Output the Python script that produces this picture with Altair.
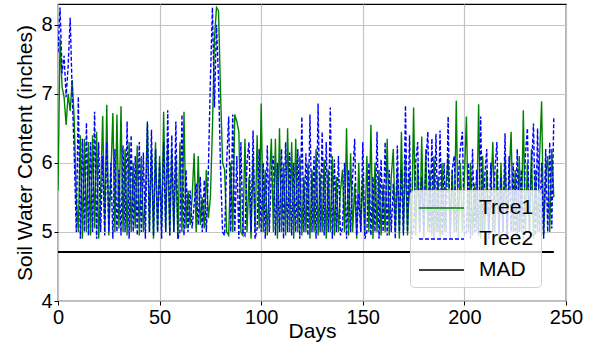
import altair as alt
import pandas as pd

# ---- data ----
tree1_values = [
    5.6, 7.8, 7.1, 6.95, 6.55, 7.0, 6.75, 7.2, 6.6, 5.5,
    5.0, 6.4, 4.9, 6.35, 5.0, 6.3, 4.95, 6.4, 5.05, 6.45,
    4.9, 5.6, 6.68, 5.0, 6.84, 4.95, 5.8, 6.72, 5.0, 6.7,
    5.05, 6.82, 5.0, 6.2, 4.95, 6.3, 5.0, 6.0, 5.05, 6.25,
    4.95, 6.1, 5.0, 5.5, 6.56, 5.0, 6.2, 4.9, 6.3, 5.0,
    6.1, 5.05, 6.74, 5.0, 6.3, 4.95, 6.2, 5.0, 6.1, 4.9,
    6.3, 5.0, 6.74, 5.05, 5.6, 5.1, 5.5, 6.14, 5.0, 6.1,
    5.1, 5.5, 5.05, 5.9, 5.2, 5.5, 6.5, 7.8, 8.25, 8.2,
    7.0, 6.0, 5.9, 5.0, 4.95, 6.0,
    5.0, 6.7, 6.6, 6.45, 5.0, 4.95, 6.35, 5.0, 5.8, 4.9,
    6.1, 5.0, 6.4, 5.05, 6.86, 5.0, 5.9, 4.95, 5.7, 6.35,
    5.0, 6.35, 4.9, 6.5, 5.0, 6.0, 4.95, 6.5, 5.0, 6.3,
    4.9, 6.35, 5.0, 6.1, 4.95, 5.8, 5.0, 6.0, 4.9, 5.9,
    5.0, 6.2, 4.95, 5.85, 5.0, 6.05, 4.9, 5.9, 5.0, 6.1,
    4.95, 5.8, 5.0, 5.6, 5.9, 5.0, 6.5, 4.95, 6.14, 5.0,
    5.7, 4.9, 6.0, 5.0, 5.8, 4.95, 6.1, 5.0, 6.55, 4.9,
    6.0, 5.0, 5.9, 4.95, 5.7, 5.0, 6.35, 4.95, 5.8, 6.2,
    5.0, 5.9, 4.9, 6.45, 5.0, 6.1, 4.95, 5.85, 5.0, 6.8,
    4.95, 6.0, 5.0, 6.38, 4.9, 6.2, 5.0, 5.9, 4.95, 6.1,
    5.0, 5.8, 4.9, 6.0, 5.0, 5.7, 6.1, 4.95, 5.9, 5.0,
    6.9, 4.9, 6.0, 5.0, 5.8, 6.67, 5.0, 6.0, 4.95, 5.7,
    5.0, 6.85, 4.9, 6.1, 5.0, 5.9, 4.95, 5.6, 6.3, 5.0,
    5.9, 4.9, 6.0, 5.0, 6.1, 4.95, 5.8, 6.45, 5.0, 5.9,
    4.9, 6.1, 5.0, 6.76, 4.95, 6.0, 5.0, 6.2, 4.9, 5.9,
    5.0, 6.1, 6.89, 4.95, 5.8, 6.1, 5.0, 6.2, 5.5,
]

tree2_values = [
    7.6, 8.25, 7.3, 7.55, 6.95, 7.4, 8.1, 7.0, 6.1, 5.0,
    6.96, 4.9, 6.35, 5.0, 6.58, 4.95, 6.3, 5.0, 6.74, 4.9,
    6.3, 5.0, 6.1, 4.95, 6.3, 5.0, 6.0, 4.9, 6.2, 5.0,
    5.9, 4.95, 6.25, 5.0, 6.6, 4.9, 6.4, 5.0, 6.1, 4.95,
    6.3, 5.0, 6.15, 4.9, 6.6, 5.0, 6.48, 4.95, 6.2, 5.0,
    6.0, 4.9, 6.3, 5.0, 6.76, 4.95, 6.4, 5.0, 6.6, 4.9,
    5.0, 6.7, 4.95, 5.9, 5.0, 5.6, 5.05, 5.4, 5.7, 5.1,
    5.8, 5.0, 5.75, 5.0, 5.9, 7.2, 8.25, 6.8, 8.0, 7.2,
    5.9, 5.0, 4.95, 6.0, 6.67, 5.0,
    6.7, 5.0, 6.1, 4.9, 6.3, 5.0, 4.95, 6.0, 6.3, 5.0,
    6.47, 4.9, 5.05, 6.2, 5.0, 6.0, 4.9, 6.25, 5.0, 5.9,
    6.1, 4.95, 6.0, 5.0, 6.2, 4.9, 6.3, 5.0, 6.15, 4.95,
    6.0, 5.0, 6.2, 4.9, 6.67, 5.0, 6.14, 4.95, 6.7, 5.0,
    6.1, 4.9, 6.86, 5.0, 6.45, 4.95, 6.3, 5.0, 6.8, 4.9,
    6.05, 5.0, 6.1, 4.95, 5.05, 6.0, 4.9, 5.9, 5.0, 5.8,
    6.35, 4.95, 5.55, 5.0, 6.3, 4.9, 5.0, 6.0, 4.95, 5.8,
    5.0, 6.45, 4.9, 6.05, 5.0, 6.3, 4.95, 5.9, 5.0, 5.7,
    4.9, 6.25, 5.0, 5.9, 4.95, 6.83, 5.0, 6.4, 4.9, 5.05,
    6.0, 6.3, 5.0, 5.8, 4.95, 6.0, 6.45, 5.0, 6.35, 4.9,
    6.42, 5.0, 6.47, 4.95, 6.0, 5.0, 6.67, 4.9, 5.9, 6.1,
    5.0, 5.8, 6.2, 6.45, 4.95, 5.0, 6.0, 4.9, 6.2, 5.0,
    5.9, 4.95, 6.67, 5.0, 5.8, 6.2, 4.9, 6.0, 5.0, 5.9,
    6.3, 4.95, 5.8, 5.0, 6.43, 4.9, 6.1, 5.0, 6.0, 4.95,
    6.2, 5.0, 5.9, 4.9, 6.1, 6.5, 5.0, 5.9, 6.57, 4.95,
    6.5, 5.0, 6.0, 4.9, 6.2, 5.0, 6.3, 5.05, 6.65,
]

mad_days = [0, 244]
mad_values = [4.71, 4.71]

series_names = ["Tree1", "Tree2", "MAD"]
series_colors = ["#008000", "#0000ff", "#000000"]
series_dashes = [[1, 0], [4, 2], [1, 0]]

x_ticks = [0, 50, 100, 150, 200, 250]
y_ticks = [4, 5, 6, 7, 8]

# ---- build table ----
rows = []
for d, v in enumerate(tree1_values):
    rows.append({"day": d, "value": v, "series": "Tree1"})
for d, v in enumerate(tree2_values):
    rows.append({"day": d, "value": v, "series": "Tree2"})
for d, v in zip(mad_days, mad_values):
    rows.append({"day": d, "value": v, "series": "MAD"})
df = pd.DataFrame(rows)

FONT = "Liberation Sans"

color_scale = alt.Scale(domain=series_names, range=series_colors)
dash_scale = alt.Scale(domain=series_names, range=series_dashes)

legend = alt.Legend(
    title=None,
    orient="none",
    legendX=352,
    legendY=186,
    symbolType="M-2.25,0L2.25,0",
    symbolSize=400,
    symbolOffset=13.5,
    symbolStrokeWidth=1.5,
    labelFontSize=21,
    labelFont=FONT,
    labelColor="black",
    labelOffset=26.5,
    rowPadding=10,
    padding=7,
    fillColor="rgba(255,255,255,0.8)",
    strokeColor="#d0d0d0",
    cornerRadius=4,
    labelLimit=200,
)

x_enc = alt.X(
    "day:Q",
    scale=alt.Scale(domain=[0, 250], nice=False),
    axis=alt.Axis(title="Days", values=x_ticks, format="d", labelFlush=False),
)
y_enc = alt.Y(
    "value:Q",
    scale=alt.Scale(domain=[4, 8.3], nice=False, zero=False),
    axis=alt.Axis(title="Soil Water Content (inches)", values=y_ticks, format="d"),
)


def layer_for(name, width):
    return (
        alt.Chart(df)
        .transform_filter(alt.datum.series == name)
        .mark_line(strokeWidth=width, clip=True)
        .encode(
            x=x_enc,
            y=y_enc,
            color=alt.Color("series:N", scale=color_scale, legend=legend),
            strokeDash=alt.StrokeDash("series:N", scale=dash_scale, legend=legend),
        )
    )


chart = (
    alt.layer(
        layer_for("Tree1", 1.4),
        layer_for("Tree2", 1.4),
        layer_for("MAD", 2.0),
    )
    .properties(
        width=508,
        height=297,
        autosize=alt.AutoSizeParams(type="none"),
        padding={"left": 58, "top": 4, "right": 26, "bottom": 42},
    )
    .configure_view(stroke="black", strokeWidth=1.2)
    .configure_axis(
        grid=True,
        gridColor="#c4c4c4",
        gridWidth=1.2,
        domain=False,
        ticks=True,
        tickColor="black",
        tickSize=4,
        tickWidth=1,
        labelFont=FONT,
        labelFontSize=20,
        labelColor="black",
        labelPadding=2,
        titleFont=FONT,
        titleFontSize=21,
        titleFontWeight="normal",
        titleColor="black",
    )
    .configure_axisX(titlePadding=-7)
    .configure_axisY(titlePadding=5)
)

chart.save("out.html", embed_options={"renderer": "svg", "actions": False})
